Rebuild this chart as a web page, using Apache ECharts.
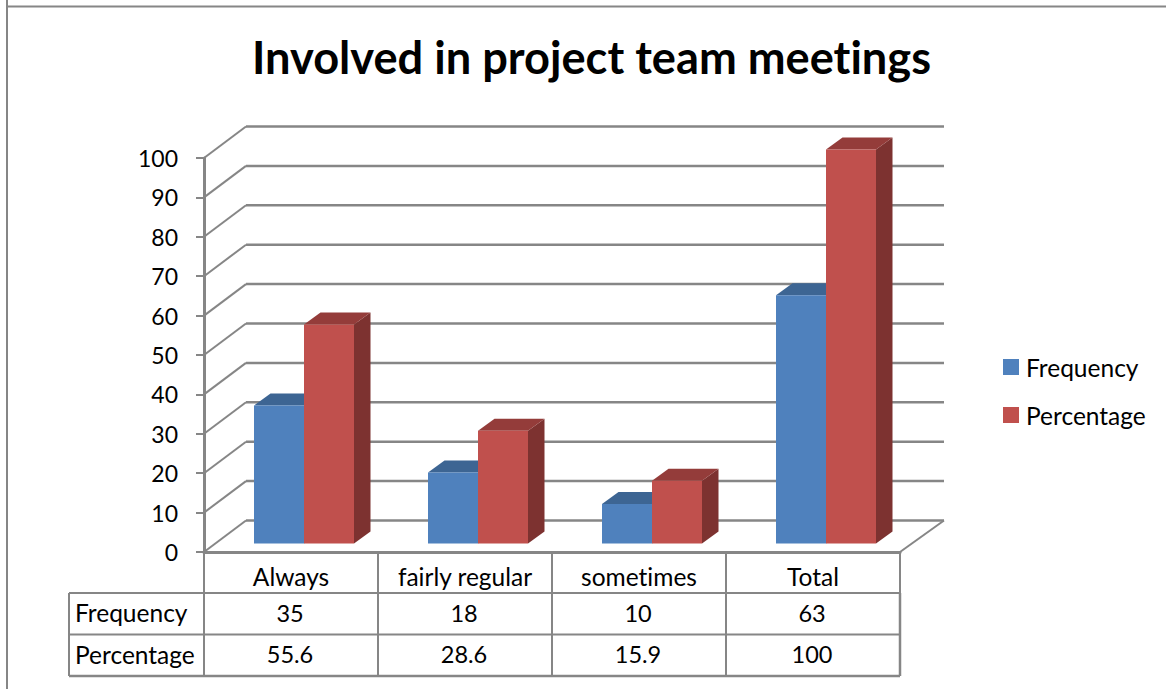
<!DOCTYPE html>
<html>
<head>
<meta charset="utf-8">
<style>
  html, body { margin: 0; padding: 0; background: #fff; }
  #chart { width: 1166px; height: 689px; }
  #chart text { font-variant-ligatures: none; }
</style>
<script src="https://cdn.jsdelivr.net/npm/echarts@6/dist/echarts.min.js"></script>
</head>
<body>
<div id="chart"></div>
<script>
var categories = ['Always', 'fairly regular', 'sometimes', 'Total'];
var frequency = [35, 18, 10, 63];
var percentage = [55.6, 28.6, 15.9, 100];
var percentageText = ['55.6', '28.6', '15.9', '100'];
var yTicks = [0, 10, 20, 30, 40, 50, 60, 70, 80, 90, 100];

var FONT = 'Lato, "Open Sans", sans-serif';
var LINE = '#868686';
var gridLeft = 204, gridTop = 158, gridWidth = 696, gridHeight = 394;
var gridRight = gridLeft + gridWidth, gridBottom = gridTop + gridHeight;
var row1 = 593, row2 = 634.5, row3 = 676, tableLeft = 69;

var chart = echarts.init(document.getElementById('chart'), null, { renderer: 'svg' });

// floor and back wall lines of the fake 3d box
function renderWall(params, api) {
  var v = api.value(0);
  var p = api.coord([0, v]);
  var y = p[1];
  var children = [
    {
      type: 'line',
      shape: { x1: gridLeft, y1: y, x2: gridLeft + 42, y2: y - 31.5 },
      style: { stroke: LINE, lineWidth: 2 }
    },
    {
      type: 'line',
      shape: { x1: gridLeft + 42, y1: y - 31.5, x2: gridRight + 44, y2: y - 31.5 },
      style: { stroke: LINE, lineWidth: 2.5 }
    }
  ];
  if (v === 0) {
    children.push({
      type: 'line',
      shape: { x1: gridRight, y1: y, x2: gridRight + 44, y2: y - 31.5 },
      style: { stroke: LINE, lineWidth: 2 }
    });
  }
  return { type: 'group', children: children };
}

// one 3d bar, shift is the offset from the middle of the category band
function barRenderer(shift, front, top, side) {
  return function (params, api) {
    var c = api.coord([api.value(0), api.value(1)]);
    var base = api.coord([api.value(0), 0]);
    var w = 50, dx = 16.5, dy = 12;
    var x = c[0] + shift;
    var y = c[1] - 8.5;
    var y0 = base[1] - 8.5;
    return {
      type: 'group',
      children: [
        {
          type: 'polygon',
          shape: { points: [[x + w, y], [x + w + dx, y - dy], [x + w + dx, y0 - dy], [x + w, y0]] },
          style: { fill: side }
        },
        {
          type: 'polygon',
          shape: { points: [[x, y], [x + dx, y - dy], [x + w + dx, y - dy], [x + w, y]] },
          style: { fill: top }
        },
        {
          type: 'rect',
          shape: { x: x, y: y, width: w, height: y0 - y },
          style: { fill: front }
        }
      ]
    };
  };
}

function tableLine(x1, y1, x2, y2, width) {
  return {
    type: 'line',
    silent: true,
    shape: { x1: x1, y1: y1, x2: x2, y2: y2 },
    style: { stroke: LINE, lineWidth: width || 2 }
  };
}

function tableText(text, x, y, align, size) {
  return {
    type: 'text',
    silent: true,
    x: x,
    y: y,
    style: { text: text, font: size + 'px ' + FONT, fill: '#000', align: align, verticalAlign: 'middle' }
  };
}

var tableItems = [
  // outer frame of the chart area
  tableLine(7, 0, 7, 689),
  tableLine(7, 6.5, 1166, 6.5),
  // horizontal rules
  tableLine(tableLeft, row1, gridRight, row1),
  tableLine(tableLeft, row2, gridRight, row2),
  tableLine(tableLeft, row3, gridRight, row3, 2.5),
  tableLine(tableLeft, row1, tableLeft, row3),
  tableLine(gridLeft, row1, gridLeft, row3)
];
var colWidth = gridWidth / categories.length;
var rowMid1 = (row1 + row2) / 2 - 1, rowMid2 = (row2 + row3) / 2 - 1;
categories.forEach(function (c, i) {
  var right = gridLeft + colWidth * (i + 1);
  var mid = gridLeft + colWidth * (i + 0.5) - 1;
  tableItems.push(tableLine(right, row1, right, row3, i === categories.length - 1 ? 2.5 : 2));
  tableItems.push(tableText(String(frequency[i]), mid, rowMid1, 'center', 23.5));
  tableItems.push(tableText(percentageText[i], mid, rowMid2, 'center', 23.5));
});
tableItems.push(tableText('Frequency', 75, rowMid1, 'left', 24.5));
tableItems.push(tableText('Percentage', 75, rowMid2, 'left', 24.5));

var option = {
  animation: false,
  backgroundColor: '#fff',
  title: {
    text: 'Involved in project team meetings',
    left: 247,
    top: 29,
    textStyle: { fontFamily: FONT, fontSize: 45.2, fontWeight: 'bold', color: '#000' }
  },
  legend: {
    orient: 'vertical',
    left: 998,
    top: 349.5,
    itemWidth: 16,
    itemHeight: 16,
    itemGap: 23,
    icon: 'rect',
    data: ['Frequency', 'Percentage'],
    textStyle: { fontFamily: FONT, fontSize: 24.5, color: '#000', padding: [0, 0, 0, 2] }
  },
  grid: { left: gridLeft, top: gridTop, width: gridWidth, height: gridHeight },
  xAxis: {
    type: 'category',
    data: categories,
    axisLine: { lineStyle: { color: LINE, width: 3 } },
    axisTick: { show: true, interval: 0, length: 41, lineStyle: { color: LINE, width: 2 } },
    axisLabel: { interval: 0, margin: 12, fontFamily: FONT, fontSize: 24.5, color: '#000' }
  },
  yAxis: {
    type: 'value',
    min: 0,
    max: 100,
    interval: 10,
    splitLine: { show: false },
    axisLine: { show: true, lineStyle: { color: LINE, width: 3 } },
    axisTick: { show: true, length: 8, lineStyle: { color: LINE, width: 2 } },
    axisLabel: { margin: 26, fontFamily: FONT, fontSize: 23, color: '#000' }
  },
  graphic: { elements: tableItems },
  series: [
    {
      type: 'custom',
      silent: true,
      renderItem: renderWall,
      encode: { y: 0 },
      data: yTicks.map(function (t) { return [t]; }),
      z: 1
    },
    {
      name: 'Frequency',
      type: 'custom',
      renderItem: barRenderer(-37, '#4f81bd', '#3d6593', '#3d6593'),
      encode: { x: 0, y: 1 },
      itemStyle: { color: '#4f81bd' },
      data: frequency.map(function (v, i) { return [i, v]; }),
      z: 3
    },
    {
      name: 'Percentage',
      type: 'custom',
      renderItem: barRenderer(13, '#c0504d', '#943c3a', '#7d3230'),
      encode: { x: 0, y: 1 },
      itemStyle: { color: '#c0504d' },
      data: percentage.map(function (v, i) { return [i, v]; }),
      z: 4
    }
  ]
};
chart.setOption(option);
</script>
</body>
</html>
